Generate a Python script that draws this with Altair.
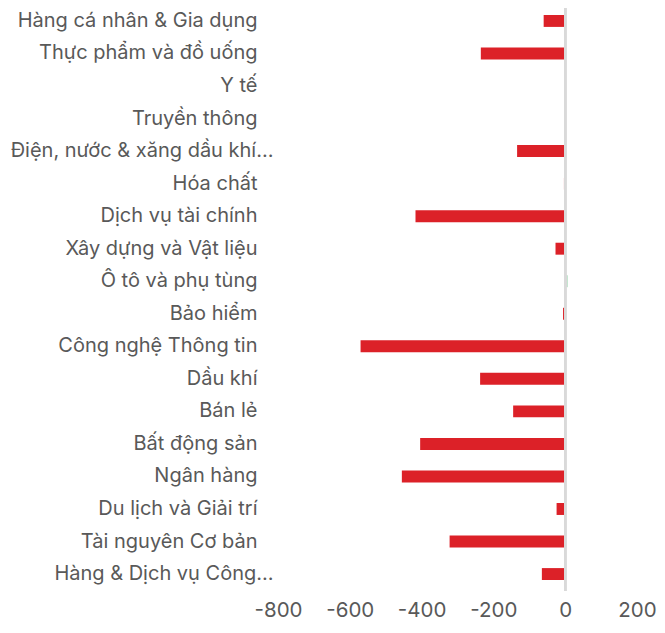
import altair as alt
import pandas as pd

categories = [
    "Hàng cá nhân & Gia dụng",
    "Thực phẩm và đồ uống",
    "Y tế",
    "Truyền thông",
    "Điện, nước & xăng dầu khí…",
    "Hóa chất",
    "Dịch vụ tài chính",
    "Xây dựng và Vật liệu",
    "Ô tô và phụ tùng",
    "Bảo hiểm",
    "Công nghệ Thông tin",
    "Dầu khí",
    "Bán lẻ",
    "Bất động sản",
    "Ngân hàng",
    "Du lịch và Giải trí",
    "Tài nguyên Cơ bản",
    "Hàng & Dịch vụ Công…",
]
values = [-60, -235, 0, 0, -134, -3.5, -417, -27, 6, -6, -570, -237, -145, -404, -455, -24, -322, -65]
x_ticks = [-800, -600, -400, -200, 0, 200]

df = pd.DataFrame({"category": categories, "value": values})

FONT = "Inter"
GRAY = "#595959"

bars = alt.Chart(df).mark_bar().encode(
    y=alt.Y(
        "category:N",
        sort=None,
        scale=alt.Scale(paddingInner=0.633, paddingOuter=0.122),
        axis=alt.Axis(
            title=None, domain=False, ticks=False, labelFontSize=20,
            labelColor=GRAY, labelFont=FONT, labelLimit=400,
            labelPadding={"condition": {"test": "indexof(datum.value, '…') >= 0", "value": 5}, "value": 21},
        ),
    ),
    x=alt.X(
        "value:Q",
        scale=alt.Scale(domain=[-800, 200], nice=False),
        axis=alt.Axis(
            values=x_ticks, title=None, grid=False, domain=False, ticks=False,
            labelFontSize=20.5, labelColor=GRAY, labelFont=FONT, labelPadding=16,
            labelOverlap=False, labelFlush=False, labelExpr="datum.value + ''",
        ),
    ),
    color=alt.condition(alt.datum.value >= 0, alt.value("#5CB87A"), alt.value("#DC2128")),
)

zero = alt.Chart(df).mark_rule(color="#D9D9D9", strokeWidth=2).encode(
    x=alt.datum(0), y=alt.value(-3), y2=alt.value(580)
)

chart = alt.layer(bars, zero).properties(
    width=359, height=573,
    autosize=alt.AutoSizeParams(type="none"),
    padding={"left": 270, "top": 3, "right": 20, "bottom": 40},
).configure_view(stroke=None)

chart.save("out.html", embed_options={"renderer": "svg", "actions": False})
